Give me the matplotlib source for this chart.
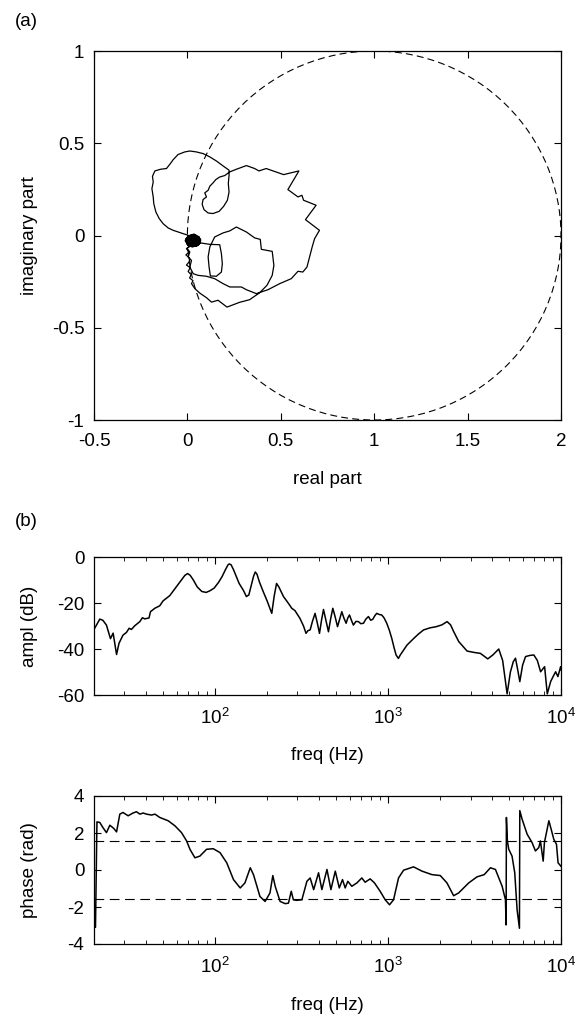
import matplotlib
matplotlib.use('Agg')
import matplotlib.pyplot as plt
from matplotlib.patches import Circle
from matplotlib.ticker import FixedLocator, FuncFormatter

plt.rcParams['font.family'] = ['Liberation Sans', 'DejaVu Sans']
plt.rcParams['mathtext.fontset'] = 'custom'
plt.rcParams['mathtext.rm'] = 'Liberation Sans'
plt.rcParams['mathtext.it'] = 'Liberation Sans:italic'
plt.rcParams['axes.unicode_minus'] = False
plt.rcParams['lines.scale_dashes'] = False

FS = 13.5

# ---------------- data ----------------
# (a) Nyquist curve (real, imaginary)
nyq_re = [0.031, 0.004, -0.023, -0.050, -0.076, -0.103, -0.130, -0.151, -0.169, -0.180,
          -0.183, -0.190, -0.183, -0.187, -0.174, -0.144, -0.112, -0.094, -0.076, -0.050,
          -0.014, 0.013, 0.048, 0.084, 0.120, 0.155, 0.191, 0.223,
          0.223, 0.219, 0.223, 0.214, 0.194, 0.170, 0.137, 0.111, 0.089, 0.079,
          0.084, 0.102, 0.093, 0.111, 0.120, 0.137, 0.152, 0.173, 0.200, 0.227,
          0.262, 0.316, 0.360, 0.383, 0.422, 0.458, 0.515, 0.597, 0.538, 0.592,
          0.613, 0.622, 0.689, 0.632, 0.707, 0.681, 0.668, 0.654, 0.640, 0.618,
          0.592, 0.556, 0.494, 0.431, 0.369, 0.316, 0.289, 0.227, 0.191, 0.146,
          0.102, 0.057, 0.031,
          0.013, 0.022, 0.004, 0.013, -0.002, 0.013, 0.031,
          0.075, 0.120, 0.173, 0.182, 0.187, 0.182, 0.155, 0.123, 0.116, 0.111,
          0.120, 0.146, 0.191, 0.227, 0.262, 0.316, 0.360, 0.390, 0.396, 0.454,
          0.463, 0.454, 0.426, 0.387, 0.333, 0.280, 0.212, 0.164, 0.129, 0.102,
          0.066, 0.040, 0.022, 0.030, 0.012, 0.020, 0.004, 0.015, -0.005, 0.012,
          0.009, -0.008, 0.010, -0.005, 0.015, 0.022,
          0.050, 0.070, 0.060, 0.030, 0.000, -0.010, 0.010, 0.040, 0.065, 0.070,
          0.050, 0.020, 0.000, 0.005, 0.030, 0.055, 0.060, 0.040, 0.015, 0.005,
          0.020, 0.045, 0.050, 0.030, 0.015, 0.030, 0.040, 0.030, 0.025,
          0.060, 0.072, 0.055, 0.025, 0.002, -0.012, 0.003, 0.035, 0.062, 0.068,
          0.045, 0.015, -0.005, 0.010, 0.040, 0.058, 0.052, 0.028, 0.010, 0.018,
          0.038, 0.048, 0.035, 0.020, 0.028, 0.036, 0.030]
nyq_im = [-0.035, 0.001, 0.010, 0.019, 0.028, 0.041, 0.064, 0.092, 0.128, 0.173,
          0.209, 0.254, 0.290, 0.321, 0.350, 0.359, 0.363, 0.386, 0.411, 0.439,
          0.453, 0.458, 0.453, 0.444, 0.426, 0.404, 0.377, 0.354,
          0.327, 0.281, 0.236, 0.191, 0.158, 0.131, 0.119, 0.122, 0.140, 0.169,
          0.195, 0.209, 0.231, 0.245, 0.267, 0.285, 0.303, 0.317, 0.325, 0.345,
          0.359, 0.379, 0.363, 0.350, 0.363, 0.350, 0.330, 0.350, 0.249, 0.209,
          0.218, 0.191, 0.164, 0.086, 0.028, -0.017, -0.062, -0.116, -0.171, -0.198,
          -0.194, -0.234, -0.261, -0.294, -0.315, -0.294, -0.279, -0.279, -0.261, -0.234,
          -0.221, -0.216, -0.207,
          -0.171, -0.135, -0.116, -0.089, -0.071, -0.053, -0.044,
          -0.041, -0.048, -0.050, -0.098, -0.153, -0.198, -0.221, -0.219, -0.171, -0.116,
          -0.062, -0.008, 0.014, 0.025, 0.046, 0.019, -0.013, -0.021, -0.075, -0.086,
          -0.162, -0.216, -0.270, -0.310, -0.348, -0.362, -0.388, -0.351, -0.361, -0.337,
          -0.312, -0.288, -0.261, -0.245, -0.230, -0.212, -0.195, -0.175, -0.160, -0.140,
          -0.120, -0.105, -0.090, -0.071, -0.058, -0.044,
          -0.010, -0.030, -0.050, -0.060, -0.050, -0.020, 0.000, 0.005, -0.015, -0.040,
          -0.055, -0.055, -0.035, -0.010, 0.000, -0.010, -0.035, -0.050, -0.045, -0.025,
          -0.010, -0.015, -0.035, -0.045, -0.030, -0.020, -0.030, -0.035, -0.028,
          -0.005, -0.025, -0.055, -0.062, -0.052, -0.028, -0.004, 0.008, -0.008, -0.040,
          -0.058, -0.050, -0.030, -0.006, -0.004, -0.025, -0.045, -0.052, -0.038, -0.018,
          -0.012, -0.028, -0.042, -0.036, -0.022, -0.026, -0.032]
circle_center = (1.0, 0.0)
circle_radius = 1.0

# (b) amplitude (dB) vs frequency (Hz)
ampl_freq = [20.0, 21.6, 22.5, 23.6, 24.9, 25.8, 27.0, 27.9, 29.4, 30.8, 31.9, 32.9, 34.4,
             36.8, 38.1, 39.3, 41.6, 42.4, 44.9, 48.0, 50.1, 54.8, 59.9, 64.0, 67.0, 69.5,
             72.0, 75.0, 79.0, 84.0, 89.0, 94.0, 99.0, 105.0, 110.0, 115.0, 119.0, 121.0,
             124.0, 128.0, 133.0, 138.0, 146.0, 152.0, 157.0, 162.0, 167.0, 171.0, 175.0,
             181.0, 190.0, 200.0, 208.0, 213.0, 220.0, 227.0, 234.0, 249.0, 265.0, 278.0,
             290.0, 310.0, 325.0, 336.0, 345.0, 355.0, 366.0, 379.0, 390.0, 402.0, 413.0,
             424.0, 438.0, 453.0, 466.0, 480.0, 495.0, 511.0, 526.0, 541.0, 556.0, 573.0,
             586.0, 599.0, 615.0, 631.0, 653.0, 675.0, 697.0, 722.0, 745.0, 771.0, 795.0,
             817.0, 840.0, 861.0, 890.0, 920.0, 950.0, 984.0, 1020.0, 1052.0, 1085.0,
             1114.0, 1149.0, 1178.0, 1288.0, 1409.0, 1500.0, 1607.0, 1750.0, 1900.0,
             2050.0, 2197.0, 2300.0, 2400.0, 2566.0, 2866.0, 3150.0, 3420.0, 3773.0,
             4050.0, 4368.0, 4600.0, 4883.0, 5100.0, 5300.0, 5457.0, 5620.0, 5780.0,
             6000.0, 6237.0, 6600.0, 6967.0, 7300.0, 7620.0, 8040.0, 8330.0, 8710.0,
             9000.0, 9310.0, 9600.0, 9950.0, 10000.0]
ampl_db = [-31.5, -27.0, -27.5, -29.6, -35.5, -33.1, -42.4, -37.5, -34.0, -32.8, -31.0, -31.5,
           -29.9, -28.1, -26.4, -26.9, -26.5, -23.8, -22.3, -21.2, -19.1, -16.8, -12.9, -10.0,
           -8.0, -7.2, -8.0, -10.0, -13.0, -15.0, -15.4, -14.6, -13.5, -11.0, -8.5, -5.5,
           -3.4, -3.0, -3.4, -5.5, -8.5, -11.5, -14.5, -17.2, -16.5, -12.5, -8.5, -6.5, -7.5,
           -11.0, -15.0, -19.0, -22.5, -24.5, -17.0, -11.5, -13.0, -17.2, -20.0, -22.3,
           -23.3, -26.7, -30.0, -33.2, -32.0, -31.7, -28.0, -24.5, -28.5, -33.2, -27.5,
           -22.8, -27.5, -32.5, -27.0, -22.3, -26.0, -30.3, -27.0, -23.8, -26.5, -28.8,
           -26.5, -25.2, -27.5, -29.6, -28.0, -28.1, -29.0, -28.8, -27.0, -25.9, -27.5,
           -27.1, -25.5, -24.5, -25.0, -25.2, -26.5, -28.8, -32.0, -35.4, -39.5,
           -42.6, -44.1, -42.6, -38.3, -35.4, -33.5, -31.7, -30.8, -30.3,
           -29.5, -28.1, -29.5, -32.5, -36.8, -40.9, -41.5, -41.9, -44.3,
           -42.5, -40.0, -45.0, -59.5, -50.0, -45.5, -44.0, -49.0, -54.2,
           -47.0, -43.3, -42.8, -42.6, -45.0, -49.9, -47.7, -59.5, -54.2,
           -52.0, -49.9, -52.0, -47.7, -49.0]

# (b) phase (rad) vs frequency (Hz)
phase_freq = [20.0, 20.4, 20.8, 21.6, 22.5, 23.6, 24.7, 26.0, 27.0, 28.2, 29.4, 31.5, 33.6,
              35.2, 36.8, 38.5, 40.2, 43.0, 45.0, 48.0, 53.7, 58.7, 64.1, 68.6, 71.7, 76.6,
              81.8, 89.5, 97.8, 107, 117, 128, 140, 149, 160, 167, 182, 195, 208, 216, 223,
              238, 255, 266, 276, 284, 297, 318, 340, 355, 372, 397, 415, 444, 468, 496, 523,
              546, 566, 586, 618, 661, 706, 738, 789, 836, 901, 964, 1021, 1077, 1151, 1231,
              1406, 1571, 1795, 2006, 2193, 2396, 2561, 2927, 3271, 3600, 3909, 4179, 4569,
              4775, 4816, 4836, 4899, 4990, 5213, 5403, 5576, 5752, 5779, 5958, 6370, 6806,
              7116, 7438, 7607, 7750, 7890, 8020, 8318, 8510, 8770, 9085, 9418, 9616, 10000]
phase_rad = [-2.60, -3.10, 2.60, 2.57, 2.30, 2.02, 2.42, 2.25, 2.06, 3.02, 3.11, 2.93, 3.08,
             3.15, 3.02, 3.08, 3.02, 2.97, 3.02, 2.84, 2.66, 2.39, 2.02, 1.57, 1.12, 0.66,
             0.75, 1.12, 1.15, 0.94, 0.39, -0.52, -0.97, -0.70, 0.12, -0.25, -1.43, -1.70,
             -1.24, -0.30, -0.88, -1.70, -1.82, -1.79, -1.15, -1.61, -1.64, -1.61, -0.61,
             -0.43, -1.06, -0.15, -1.06, 0.03, -1.06, -0.06, -0.97, -0.52, -0.97, -0.61,
             -0.88, -0.70, -0.43, -0.66, -0.48, -0.70, -1.15, -1.61, -1.88, -1.61, -0.43,
             -0.01, 0.17, -0.06, -0.25, -0.30, -0.70, -1.39, -1.24, -0.70, -0.37, -0.25,
             0.12, 0.03, -0.88, -1.61, -2.97, 2.84, 1.57, 1.12, 0.75, -0.15, -2.15, -3.15,
             3.21, 2.75, 1.94, 1.48, 1.03, 1.21, 1.57, 1.00, 0.48, 1.48, 2.21, 2.66, 2.21,
             1.66, 1.39, 0.39, 0.20]
phase_ref = [1.5708, -1.5708]

# ---------------- figure ----------------
W, H = 577, 1021
fig = plt.figure(figsize=(W / 100, H / 100), dpi=100)


def box(l, t, r, b):
    return [l / W, 1 - b / H, (r - l) / W, (b - t) / H]


def style(ax, xpad=10, ypad=7):
    for s in ax.spines.values():
        s.set_linewidth(0.9)
    ax.tick_params(which='major', direction='in', top=True, right=True,
                   length=5, width=0.8, labelsize=FS)
    ax.tick_params(which='minor', direction='in', top=True, right=True,
                   length=3, width=0.6)
    ax.tick_params(axis='x', pad=xpad)
    ax.tick_params(axis='y', pad=ypad)


fmt = FuncFormatter(lambda v, p: f'{v:g}')

# (a)
ax1 = fig.add_axes(box(94, 51, 561, 420))
ax1.plot(nyq_re, nyq_im, color='black', lw=0.9)
ax1.add_patch(Circle(circle_center, circle_radius, fill=False, ec='black', lw=0.8,
                     ls=(0, (5, 3))))
ax1.set_xlim(-0.5, 2)
ax1.set_ylim(-1, 1)
ax1.xaxis.set_major_locator(FixedLocator([-0.5, 0, 0.5, 1, 1.5, 2]))
ax1.yaxis.set_major_locator(FixedLocator([-1, -0.5, 0, 0.5, 1]))
ax1.xaxis.set_major_formatter(fmt)
ax1.yaxis.set_major_formatter(fmt)
style(ax1, xpad=9)

# amplitude
ax2 = fig.add_axes(box(94, 557, 561, 695))
ax2.semilogx(ampl_freq, ampl_db, color='black', lw=1.1)
ax2.set_xlim(20, 1e4)
ax2.set_ylim(-60, 0)
ax2.yaxis.set_major_locator(FixedLocator([-60, -40, -20, 0]))
ax2.yaxis.set_major_formatter(fmt)
style(ax2, xpad=9)

# phase
ax3 = fig.add_axes(box(94, 796, 561, 944))
ax3.semilogx(phase_freq, phase_rad, color='black', lw=1.1)
for v in phase_ref:
    ax3.axhline(v, color='black', lw=0.8, ls=(0, (7, 4)))
ax3.set_xlim(20, 1e4)
ax3.set_ylim(-4, 4)
ax3.yaxis.set_major_locator(FixedLocator([-4, -2, 0, 2, 4]))
ax3.yaxis.set_major_formatter(fmt)
style(ax3, xpad=9)

# labels
def ftxt(x, y, s, **kw):
    fig.text(x / W, 1 - y / H, s, fontsize=FS, ha='center', va='center', **kw)

ftxt(26, 22, '(a)')
ftxt(26, 521, '(b)')
ftxt(30, 236, 'imaginary part', rotation=90)
ftxt(30, 626, 'ampl (dB)', rotation=90)
ftxt(30, 870, 'phase (rad)', rotation=90)
ftxt(327, 479, 'real part')
ftxt(327, 756, 'freq (Hz)')
ftxt(327, 1005, 'freq (Hz)')

fig.savefig('out.png', dpi=100)
